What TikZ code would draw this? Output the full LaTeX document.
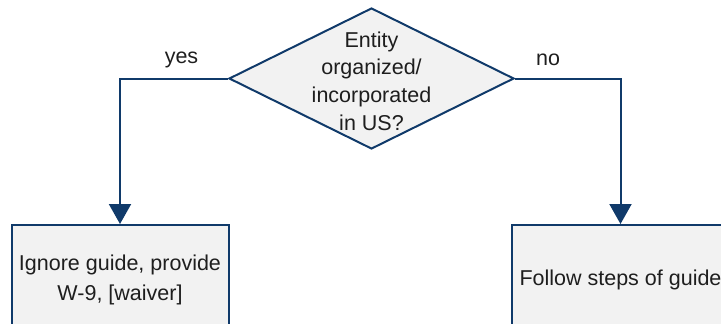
\documentclass[tikz,border=0pt]{standalone}
\usepackage{fontspec}
\setmainfont{Liberation Sans}
\usetikzlibrary{shapes.geometric,arrows.meta}
\definecolor{edge}{RGB}{16,58,106}
\definecolor{boxfill}{RGB}{242,242,242}
\definecolor{ink}{RGB}{30,30,30}
\tikzset{
  flow/.style={draw=edge, line width=2pt, -{Triangle[width=22pt,length=20pt]}},
  decision/.style={diamond, draw=edge, line width=2pt, fill=boxfill, minimum width=285pt, minimum height=141pt, inner sep=0pt},
  action/.style={rectangle, draw=edge, line width=2pt, fill=boxfill, minimum width=217pt, minimum height=110pt, align=center, text=ink, font=\fontsize{21.5}{30}\selectfont},
  qtxt/.style={align=center, text=ink, font=\fontsize{21.5}{27.7}\selectfont, inner sep=0pt},
  lbl/.style={text=ink, font=\fontsize{21.5}{25}\selectfont, inner sep=0pt}
}
\begin{document}
\begin{tikzpicture}[x=1pt,y=-1pt]
\useasboundingbox (0,0) rectangle (721,324);
\clip (0,0) rectangle (721,324);
\node[decision] (q) at (371.5,78.5) {};
\node[qtxt] (qt) at (371.5,81) {Entity\\organized/\\incorporated\\in US?};
\node[action] (L) at (120,280) {Ignore guide, provide\\W-9, [waiver]};
\node[action] (R) at (620.5,280) {Follow steps of guide};
\draw[flow] (q.west) -| (L.north);
\draw[flow] (q.east) -| (R.north);
\node[lbl] (yes) at (181.5,59.5) {yes};
\node[lbl] (no) at (548,59.5) {no};
\end{tikzpicture}
\end{document}
